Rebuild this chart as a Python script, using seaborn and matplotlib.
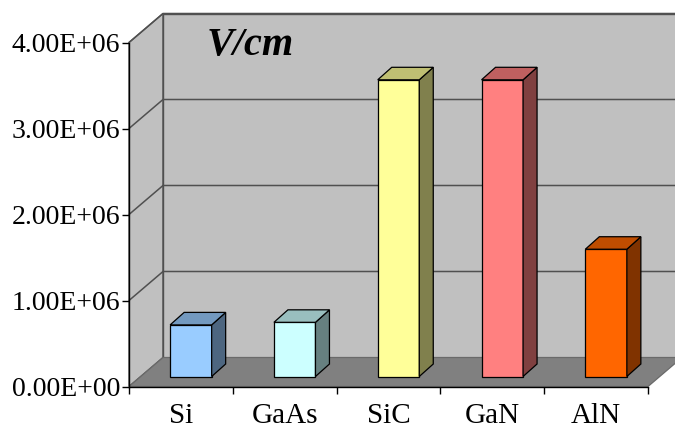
import matplotlib
matplotlib.use("Agg")
import matplotlib.pyplot as plt
from matplotlib.patches import Polygon
import matplotlib.colors as mcolors
import seaborn as sns
import pandas as pd

# Critical breakdown field of semiconductor materials
materials = ["Si", "GaAs", "SiC", "GaN", "AlN"]
field_v_per_cm = [6.0e5, 6.3e5, 3.45e6, 3.45e6, 1.48e6]
face_colors = ["#99CCFF", "#CCFFFF", "#FFFF99", "#FF8080", "#FF6600"]
y_ticks = [0, 1e6, 2e6, 3e6, 4e6]
y_tick_labels = ["0.00E+00", "1.00E+06", "2.00E+06", "3.00E+06", "4.00E+06"]
unit_label = "V/cm"

sns.set_style("white")
plt.rcParams["font.family"] = ["Liberation Serif", "DejaVu Serif"]
plt.rcParams["text.color"] = "black"
plt.rcParams["xtick.color"] = "black"
plt.rcParams["ytick.color"] = "black"

W, H = 675, 434
fig = plt.figure(figsize=(W / 100, H / 100), dpi=100)
ax_left, ax_right, ax_bottom, ax_top = 129, 648, 386.5, 42.5
ax = fig.add_axes([ax_left / W, (H - ax_bottom) / H,
                   (ax_right - ax_left) / W, (ax_bottom - ax_top) / H])

df = pd.DataFrame({"material": materials, "field": field_v_per_cm})
sns.barplot(data=df, x="material", y="field", hue="material",
            palette=face_colors, width=0.40, legend=False, ax=ax,
            edgecolor="black", linewidth=0.9, saturation=1)

xmin, xmax = -0.5, len(materials) - 0.5
ymin, ymax = 0, 4e6
ax.set_xlim(xmin, xmax)
ax.set_ylim(ymin, ymax)
ax.patch.set_alpha(0)

# pixel -> data conversion for the oblique depth offsets
ppx = (ax_right - ax_left) / (xmax - xmin)
ppy = (ax_bottom - ax_top) / (ymax - ymin)


def px(dx, dy):
    return dx / ppx, dy / ppy


DX, DY = px(34, 29)        # full depth of the box
BX, BY = px(10, 10)        # bar front plane offset
BDX, BDY = px(14, 12.5)    # bar depth

wall = "#C0C0C0"
floor = "#808080"
grid = "#505050"

# left wall
ax.add_patch(Polygon([(xmin, ymin), (xmin, ymax), (xmin + DX, ymax + DY),
                      (xmin + DX, ymin + DY)], closed=True, facecolor=wall,
                     edgecolor=grid, linewidth=1.0, zorder=0.5, clip_on=False))
# back wall
ax.add_patch(Polygon([(xmin + DX, ymin + DY), (xmin + DX, ymax + DY),
                      (xmax + DX, ymax + DY), (xmax + DX, ymin + DY)],
                     closed=True, facecolor=wall, edgecolor=grid,
                     linewidth=1.0, zorder=0.5, clip_on=False))
# gridlines on walls
for v in y_ticks[1:]:
    ax.plot([xmin, xmin + DX, xmax + DX], [v, v + DY, v + DY], color=grid,
            linewidth=1.1, zorder=0.6, clip_on=False)
# floor
ax.add_patch(Polygon([(xmin, ymin), (xmax, ymin), (xmax + DX, ymin + DY),
                      (xmin + DX, ymin + DY)], closed=True, facecolor=floor,
                     edgecolor="#6A6A6A", linewidth=0.9, zorder=0.7,
                     clip_on=False))


def shade(color, k):
    r, g, b = mcolors.to_rgb(color)
    return (r * k, g * k, b * k)


# extrude the seaborn bars into boxes
for p in list(ax.patches):
    if not hasattr(p, "get_width") or p.get_width() <= 0 or p.get_height() <= 0:
        continue
    x0 = p.get_x() + BX
    y0 = p.get_y() + BY
    w, h = p.get_width(), p.get_height()
    p.set_x(x0)
    p.set_y(y0)
    p.set_zorder(2)
    p.set_clip_on(False)
    fc = p.get_facecolor()
    x1, y1 = x0 + w, y0 + h
    ax.add_patch(Polygon([(x1, y0), (x1 + BDX, y0 + BDY), (x1 + BDX, y1 + BDY),
                          (x1, y1)], closed=True, facecolor=shade(fc, 0.5),
                         edgecolor="black", linewidth=0.9, zorder=2,
                         clip_on=False))
    ax.add_patch(Polygon([(x0, y1), (x0 + BDX, y1 + BDY), (x1 + BDX, y1 + BDY),
                          (x1, y1)], closed=True, facecolor=shade(fc, 0.75),
                         edgecolor="black", linewidth=0.9, zorder=2,
                         clip_on=False))

# axes styling
for s in ["top", "right"]:
    ax.spines[s].set_visible(False)
for s in ["left", "bottom"]:
    ax.spines[s].set_color("black")
    ax.spines[s].set_linewidth(1.0)
    ax.spines[s].set_zorder(3)

ax.set_yticks(y_ticks, labels=y_tick_labels)
ax.tick_params(axis="y", direction="out", length=5, width=1, color="black",
               labelcolor="black", pad=1.5, labelsize=20, left=True)
ax.set_xticks([i - 0.5 for i in range(len(materials) + 1)], labels=[])
ax.set_xticks(range(len(materials)), labels=materials, minor=True)
ax.tick_params(axis="x", which="major", direction="out", length=5, width=1,
               color="black", bottom=True)
ax.tick_params(axis="x", which="minor", length=0, pad=12, labelsize=21,
               labelcolor="black")
ax.set_xlabel("")
ax.set_ylabel("")
ax.grid(False)

fig.text(250 / W, 1 - 45 / H, unit_label, fontsize=29, fontweight="bold",
         fontstyle="italic", ha="center", va="center", color="black",
         family=["Liberation Serif", "DejaVu Serif"])

fig.savefig("out.png", dpi=100)
